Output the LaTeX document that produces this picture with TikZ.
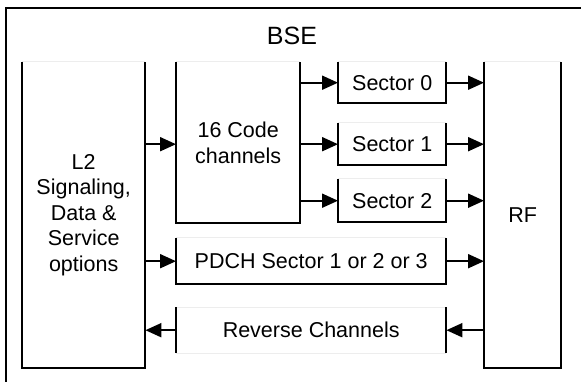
\documentclass[tikz,border=0pt]{standalone}
\usepackage{fontspec}
\setmainfont{Liberation Sans}
\usetikzlibrary{arrows.meta}
\begin{document}
\begin{tikzpicture}[x=1pt,y=-1pt,
  blk/.style={draw=none,inner sep=0pt,anchor=north west,align=center,
    font=\fontsize{21.5}{25.5}\selectfont},
  edge/.style={line width=2pt,black},
  faint/.style={line width=1pt,black!7},
  arr/.style={line width=2pt,-{Triangle[length=16pt,width=14pt]}}]
\useasboundingbox[fill=white] (0,0) rectangle (581,382);
\clip (0,0) rectangle (581,382);
% outer frame
\draw[line width=2.2pt] (6,400) -- (6,8) -- (600,8);
\node[font=\fontsize{25}{30}\selectfont] (bse) at (292,36) {BSE};
% blocks
\node[blk,minimum width=123pt,minimum height=306pt] (l2) at (22,62) {L2\\Signaling,\\Data \&\\Service\\options};
\node[blk,minimum width=124pt,minimum height=161pt] (code) at (176,62) {16 Code\\channels};
\node[blk,minimum width=108pt,minimum height=41pt] (s0) at (338,62) {Sector 0};
\node[blk,minimum width=108pt,minimum height=42pt] (s1) at (338,123) {Sector 1};
\node[blk,minimum width=108pt,minimum height=43pt] (s2) at (338,179) {Sector 2};
\node[blk,minimum width=77pt,minimum height=306pt] (rf) at (484,62) {RF};
\node[blk,minimum width=270pt,minimum height=46pt] (pdch) at (176,238) {PDCH Sector 1 or 2 or 3};
\node[blk,minimum width=270pt,minimum height=46pt] (rev) at (176,307) {Reverse Channels};
% faint top borders
\foreach \n in {l2,code,s0,s1,s2,rf,pdch,rev}
  \draw[faint] (\n.north west) -- (\n.north east);
\draw[faint] (rev.south west) -- (rev.south east);
% three-sided borders
\foreach \n in {l2,code,s0,s1,s2,rf,pdch}
  \draw[edge] (\n.north west) -- (\n.south west) -- (\n.south east) -- (\n.north east);
\draw[edge] (rev.north west) -- (rev.south west);
\draw[edge] (rev.north east) -- (rev.south east);
% connectors
\draw[arr] (l2.east |- s1) -- (code.west |- s1);
\draw[arr] (code.east |- s0) -- (s0.west);
\draw[arr] (code.east |- s1) -- (s1.west);
\draw[arr] (code.east |- s2) -- (s2.west);
\draw[arr] (s0.east) -- (rf.west |- s0);
\draw[arr] (s1.east) -- (rf.west |- s1);
\draw[arr] (s2.east) -- (rf.west |- s2);
\draw[arr] (l2.east |- pdch) -- (pdch.west);
\draw[arr] (pdch.east) -- (rf.west |- pdch);
\draw[arr] (rf.west |- rev) -- (rev.east);
\draw[arr] (rev.west) -- (l2.east |- rev);
\end{tikzpicture}
\end{document}
